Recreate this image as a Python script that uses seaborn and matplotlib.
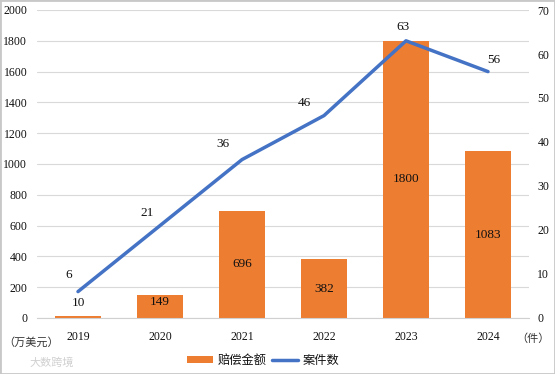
import matplotlib
matplotlib.use('Agg')
import matplotlib.pyplot as plt
import pandas as pd
import seaborn as sns

years = ['2019', '2020', '2021', '2022', '2023', '2024']
amounts = [10, 149, 696, 382, 1800, 1083]
cases = [6, 21, 36, 46, 63, 56]

sns.set_style('white')
plt.rcParams['font.family'] = ['Liberation Serif', 'Noto Sans CJK SC']

df = pd.DataFrame({'year': years, 'amount': amounts, 'cases': cases})

W, H = 555, 374
fig, ax = plt.subplots(figsize=(W / 100, H / 100), dpi=100)
fig.patch.set_facecolor('white')
fig.subplots_adjust(left=37 / W, right=529 / W, top=1 - 10 / H, bottom=1 - 318 / H)

sns.barplot(data=df, x='year', y='amount', color='#ED7D31', width=0.57, saturation=1, linewidth=0, ax=ax, label='赔偿金额')
ax.set_ylim(0, 2000)
ax.set_yticks(range(0, 2001, 200))
ax.set_xlim(-0.5, 5.5)
ax.set_xlabel('')
ax.set_ylabel('')
ax.tick_params(axis='x', length=0, labelsize=8.5, labelcolor='#111111', pad=9)
ax.tick_params(axis='y', length=0, labelsize=8.5, labelcolor='#111111', pad=7)
ax.yaxis.grid(True, color='#D9D9D9', linewidth=0.8)
ax.set_axisbelow(True)
for s in ['top', 'left', 'right']:
    ax.spines[s].set_visible(False)
ax.spines['bottom'].set_color('#D0D0D0')

ax2 = ax.twinx()
sns.lineplot(data=df, x='year', y='cases', color='#4472C4', linewidth=2.5, ax=ax2, label='案件数', legend=False)
ax2.set_ylim(0, 70)
ax2.set_yticks(range(0, 71, 10))
ax2.set_ylabel('')
ax2.set_xlabel('')
ax2.tick_params(axis='y', length=0, labelsize=8.5, labelcolor='#111111', pad=6)
for s in ['top', 'left', 'right', 'bottom']:
    ax2.spines[s].set_visible(False)

# bar labels
for i, a in enumerate(amounts):
    if i == 0:
        ax.annotate(str(a), (i, a), xytext=(0, 10), textcoords='offset points', ha='center', va='center', fontsize=9.5, color='#111111')
    elif i == 1:
        ax.annotate(str(a), (i, a), xytext=(0, -5), textcoords='offset points', ha='center', va='center', fontsize=9.5, color='#111111')
    else:
        ax.text(i, a / 2, str(a), ha='center', va='center', fontsize=9.5, color='#111111')

# line labels
label_dx = [-7, -9, -14, -14, -2, 4]
label_dy = [12, 9, 11, 9, 10, 8]
for i, c in enumerate(cases):
    ax2.annotate(str(c), (i, c), xytext=(label_dx[i], label_dy[i]), textcoords='offset points', ha='center', va='center', fontsize=9.5, color='#111111')

fig.text(3 / W, 1 - 342 / H, '（万美元）', fontsize=8, color='#333333', va='center')
fig.text(516 / W, 1 - 339 / H, '（件）', fontsize=8, color='#333333', va='center')

h1, l1 = ax.get_legend_handles_labels()
h2, l2 = ax2.get_legend_handles_labels()
ax.legend_.remove()
fig.legend(h1 + h2, l1 + l2, loc='center', ncol=2, frameon=False, fontsize=8.8,
           bbox_to_anchor=(263 / W, 1 - 361 / H), handlelength=2.2, handleheight=0.5,
           columnspacing=0.4, handletextpad=0.35, labelcolor='#111111')

fig.add_artist(plt.Rectangle((0, 0), 1, 1, transform=fig.transFigure, fill=False, edgecolor='#C8C8C8', linewidth=2))
fig.text(29 / W, 1 - 363 / H, '大数跨境', fontsize=8, color='#D0D0D0', va='center')

fig.savefig('out.png', dpi=100)
